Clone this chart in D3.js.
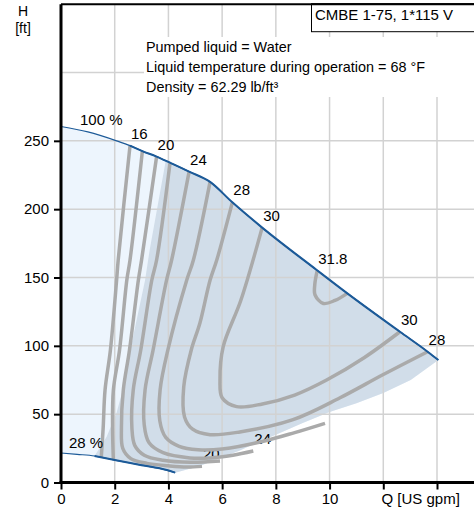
<!DOCTYPE html>
<html>
<head>
<meta charset="utf-8">
<script src="https://cdn.jsdelivr.net/npm/d3@7"></script>
<style>
    body { margin: 0; background: #fff; }
    svg { display: block; font-family: Arial, "Liberation Sans", sans-serif; }
</style>
</head>
<body>
<svg id="chart" width="474" height="508"></svg>
<script>
// Q [US gpm], H [ft]
const maxCurve = [[0,260.5],[1,256.5],[2.07,250],[2.57,246.5],[3.03,242.5],[3.56,238.5],[4.06,234],[4.77,227.5],[5.55,220],[6.38,205],[7.49,186.5],[9.52,155.5],[10.66,138.4],[12.62,110.3],[13.65,95.7],[14.05,89.6]];
const minCurve = [[0,21.6],[0.6,20.6],[1.25,19.4],[2,16.4],[3,12.7],[3.94,9.1],[4.25,7.2]];
const outerEdge = [[14.05,89.6],[13.02,75],[12,65.5],[11,58],[10,51.5],[9,43.5],[8,35],[7,26.5],[6.66,23.5],[6,18.5],[5.17,12],[4.25,7.2]];
const zoneLeft = [[1.25,19.4],[1.7,33.5],[2.07,51],[2.3,67.7],[2.6,99],[3.13,148],[3.3,170],[3.9,235.4]];

const eff16 = [[2.57,246.5],[2.13,162.8],[2.07,148],[1.84,97],[1.64,67.7],[1.57,40],[1.5,18.6]];
const eff18 = [[3.03,242.5],[2.57,162.8],[2.45,148],[2.18,97],[1.95,67.7],[1.92,40],[1.95,16.6]];
const eff20 = [[3.56,238.5],[3.0,162.8],[2.88,148],[2.55,97],[2.32,67.7],[2.25,40],[2.3,25],[2.6,17.5],[3.2,14],[4,12.2],[4.68,11.3],[5.25,11.8]];
const eff22 = [[4.06,234],[3.56,162.8],[3.38,148],[2.97,97],[2.69,67.7],[2.64,40],[2.75,27],[3.1,20],[3.8,16.3],[4.8,14.8],[5.92,15.7]];
const eff24 = [[4.77,227.5],[4.12,162.8],[3.93,148],[3.43,97],[3.13,67.7],[3.1,42],[3.28,29],[3.8,21.8],[4.8,18],[5.55,18],[6.4,20],[7.16,23]];
const eff26 = [[5.55,220],[4.93,162.8],[4.68,148],[3.98,97],[3.69,67.7],[3.68,45],[3.9,33],[4.4,26.5],[5.1,24],[6,24.5],[7.5,30],[8.7,36.5],[9.83,43.3]];
const eff28 = [[6.38,205],[5.8,162.8],[5.55,148],[5.17,116.5],[4.85,97],[4.57,70],[4.6,48],[4.9,39],[5.55,35],[6.66,37],[8.64,46],[10.39,62],[12,79],[13.65,95.7]];
const eff30 = [[7.49,186.5],[6.7,133.5],[6.04,99.4],[5.92,75],[6.0,62],[6.54,55.5],[7.5,57.5],[8.7,64],[9.89,75],[11.3,91.5],[12.62,110.3]];
const eff318 = [[9.54,155],[9.45,145],[9.46,137.2],[9.77,131],[10.2,133.2],[10.66,138.4]];

const effCurves = [eff16, eff18, eff20, eff22, eff24, eff26, eff28, eff30, eff318];
const effNames = ['16', '18', '20', '22', '24', '26', '28', '30', '31.8'];
const labelAtStart = [true, false, true, false, true, false, true, true, true];
const labelAtEnd = [false, false, true, false, true, false, true, true, false];

const xTicks = [0, 2, 4, 6, 8, 10, 12, 14];
const yTicks = [0, 50, 100, 150, 200, 250];
const yGrid = [50, 100, 150, 200, 250, 300];
const infoLines = ['Pumped liquid = Water', 'Liquid temperature during operation = 68 °F', 'Density = 62.29 lb/ft³'];
const titleText = 'CMBE 1-75, 1*115 V';

const svg = d3.select('#chart');
const W = 474;
const x = d3.scaleLinear().domain([0, 14]).range([61, 437]);
const y = d3.scaleLinear().domain([0, 300]).range([482.5, 72.5]);
const topY = y(350);

const poly = d3.line().x(d => x(d[0])).y(d => y(d[1]));
const smooth = d3.line().x(d => x(d[0])).y(d => y(d[1])).curve(d3.curveCatmullRom.alpha(0.5));
const mono = d3.line().x(d => x(d[0])).y(d => y(d[1])).curve(d3.curveMonotoneX);

// part of a curve from q0 on
function fromQ(pts, q0) {
    for (let i = 0; i < pts.length - 1; i++) {
        const a = pts[i], b = pts[i + 1];
        if (a[0] <= q0 && b[0] > q0) {
            const t = (q0 - a[0]) / (b[0] - a[0]);
            return [[q0, a[1] + t * (b[1] - a[1])]].concat(pts.slice(i + 1));
        }
    }
    return pts;
}

// Fills
const lightArea = maxCurve.concat(outerEdge.slice(1), minCurve.slice(0, -1).reverse());
svg.append('path').attr('d', poly(lightArea) + 'Z').attr('fill', '#edf5fd');

const darkArea = zoneLeft.concat(
    maxCurve.filter(p => p[0] > 3.9),
    outerEdge.slice(1),
    minCurve.filter(p => p[0] > 1.25 && p[0] < 4.25).reverse());
svg.append('path').attr('d', poly(darkArea) + 'Z').attr('fill', '#d1dde9');

// Grid
const grid = svg.append('g').attr('stroke', '#d2d2d2').attr('stroke-width', 1.5);
xTicks.filter(d => d > 0).forEach(d => {
    grid.append('line').attr('x1', x(d)).attr('x2', x(d)).attr('y1', y(0)).attr('y2', topY);
});
yGrid.forEach(d => {
    grid.append('line').attr('x1', x(0)).attr('x2', W).attr('y1', y(d)).attr('y2', y(d));
});

// Info block
svg.append('rect').attr('x', 144).attr('y', 37).attr('width', W - 144).attr('height', 60).attr('fill', '#fff');
svg.append('g').selectAll('text').data(infoLines).join('text')
    .attr('x', 146).attr('y', (d, i) => 52 + i * 20)
    .attr('font-size', 14.4).attr('fill', '#000')
    .text(d => d);

// Efficiency labels (under the lines)
const lab = svg.append('g').attr('font-size', 15).attr('fill', '#000');
effCurves.forEach((pts, i) => {
    const ends = [];
    if (labelAtStart[i]) ends.push(pts[0]);
    if (labelAtEnd[i]) ends.push(pts[pts.length - 1]);
    ends.forEach(p => {
        lab.append('text').attr('x', x(p[0]) + 1).attr('y', y(p[1]) - 7).text(effNames[i]);
    });
});

// Efficiency lines
svg.append('g').selectAll('path').data(effCurves).join('path')
    .attr('d', smooth)
    .attr('fill', 'none')
    .attr('stroke', '#aaaaaa')
    .attr('stroke-width', 3.5);

// Speed curves
const blue = '#1c5a98';
svg.append('path').attr('d', mono(maxCurve)).attr('fill', 'none').attr('stroke', blue).attr('stroke-width', 1.2);
svg.append('path').attr('d', mono(fromQ(maxCurve, 2.57))).attr('fill', 'none').attr('stroke', blue).attr('stroke-width', 2);
svg.append('path').attr('d', mono(minCurve)).attr('fill', 'none').attr('stroke', blue).attr('stroke-width', 1.2);
svg.append('path').attr('d', mono(fromQ(minCurve, 1.25))).attr('fill', 'none').attr('stroke', blue).attr('stroke-width', 2);

svg.append('text').attr('x', 80).attr('y', 125).attr('font-size', 15).text('100 %');
svg.append('text').attr('x', 69).attr('y', 448).attr('font-size', 15).text('28 %');

// Axes
const xAxis = d3.axisBottom(x).tickValues(xTicks)
    .tickFormat(d => d <= 10 ? d : '')
    .tickSize(7).tickSizeOuter(0).tickPadding(4);
const gx = svg.append('g').attr('transform', `translate(0,${y(0)})`).call(xAxis);

const yAxis = d3.axisLeft(y).tickValues(yTicks)
    .tickSize(7).tickSizeOuter(0).tickPadding(5);
const gy = svg.append('g').attr('transform', `translate(${x(0)},0)`).call(yAxis);

[gx, gy].forEach(g => {
    g.select('.domain').remove();
    g.selectAll('.tick line').attr('stroke', '#000').attr('stroke-width', 2);
    g.selectAll('.tick text').attr('font-size', 15).attr('font-family', 'Arial, "Liberation Sans", sans-serif').attr('fill', '#000');
});

svg.append('line').attr('x1', x(0)).attr('x2', x(0)).attr('y1', topY).attr('y2', y(0) + 1.5)
    .attr('stroke', '#000').attr('stroke-width', 3);
svg.append('line').attr('x1', x(0) - 1.5).attr('x2', W).attr('y1', y(0)).attr('y2', y(0))
    .attr('stroke', '#000').attr('stroke-width', 3);
svg.append('line').attr('x1', x(0)).attr('x2', W).attr('y1', topY).attr('y2', topY)
    .attr('stroke', '#000').attr('stroke-width', 2);

svg.append('text').attr('x', 381.5).attr('y', 504).attr('font-size', 15).text('Q [US gpm]');
svg.append('text').attr('x', 23).attr('y', 16).attr('font-size', 14).attr('text-anchor', 'middle').text('H');
svg.append('text').attr('x', 23).attr('y', 33).attr('font-size', 14).attr('text-anchor', 'middle').text('[ft]');

// Title box
svg.append('rect').attr('x', 311.5).attr('y', topY).attr('width', 170).attr('height', 31.7 - topY)
    .attr('fill', '#fff').attr('stroke', '#000').attr('stroke-width', 1);
svg.append('line').attr('x1', 311).attr('x2', W).attr('y1', topY).attr('y2', topY)
    .attr('stroke', '#000').attr('stroke-width', 2);
svg.append('text').attr('x', 315).attr('y', 20).attr('font-size', 15).text(titleText);
</script>
</body>
</html>
